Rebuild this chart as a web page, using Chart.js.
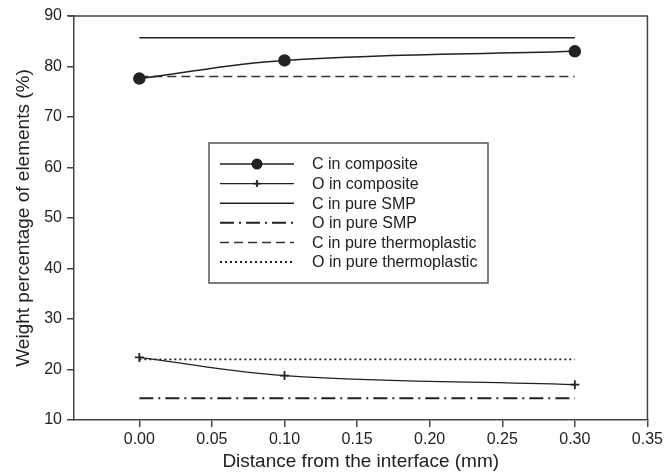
<!DOCTYPE html>
<html>
<head>
<meta charset="utf-8">
<script src="https://cdn.jsdelivr.net/npm/chart.js@4"></script>
<style>
html,body{margin:0;padding:0;background:#fff;}
#wrap{width:666px;height:474px;}
</style>
</head>
<body>
<div id="wrap"><canvas id="chart" width="666" height="474"></canvas></div>
<script>
// data
const xTicks=[0,0.05,0.10,0.15,0.20,0.25,0.30,0.35];
const yTicks=[10,20,30,40,50,60,70,80,90];
const distances=[0,0.1,0.3];
const cComposite=[77.6,81.2,83.0];
const oComposite=[22.4,18.8,17.0];
const lineEnds=[0,0.3];
const cPureSMP=[85.7,85.7];
const oPureSMP=[14.3,14.3];
const cPureThermo=[78.0,78.0];
const oPureThermo=[22.0,22.0];

const ink='#222';
const FONT='"Liberation Sans", Arial, sans-serif';

function pts(xs,ys){return xs.map((x,i)=>({x:x,y:ys[i]}));}

const datasets=[
    {label:'C in composite',data:pts(distances,cComposite),borderColor:ink,backgroundColor:ink,borderWidth:1.5,
     pointStyle:'circle',pointRadius:5.5,tension:0.4},
    {label:'O in composite',data:pts(distances,oComposite),borderColor:ink,backgroundColor:ink,borderWidth:1.3,
     pointStyle:'cross',pointRadius:4.5,pointBorderWidth:1.8,tension:0.4},
    {label:'C in pure SMP',data:pts(lineEnds,cPureSMP),borderColor:ink,borderWidth:1.4,pointRadius:0},
    {label:'O in pure SMP',data:pts(lineEnds,oPureSMP),borderColor:ink,borderWidth:2,borderDash:[14,5,2,5],pointRadius:0},
    {label:'C in pure thermoplastic',data:pts(lineEnds,cPureThermo),borderColor:'#333',borderWidth:1.5,borderDash:[9,5],pointRadius:0},
    {label:'O in pure thermoplastic',data:pts(lineEnds,oPureThermo),borderColor:ink,borderWidth:1.8,borderDash:[2,3],pointRadius:0}
];

// box around the plot and the legend inside it
const framePlugin={
    id:'frame',
    afterDraw(chart){
        const ctx=chart.ctx, a=chart.chartArea;
        ctx.save();
        ctx.strokeStyle='#444';
        ctx.lineWidth=1.5;
        ctx.beginPath();
        ctx.moveTo(a.left-6,a.top);ctx.lineTo(a.right,a.top);ctx.lineTo(a.right,a.bottom);
        ctx.stroke();

        const bx=a.left+135, by=a.top+127, bw=279, bh=140;
        ctx.strokeStyle='#555';
        ctx.lineWidth=1.5;
        ctx.strokeRect(bx,by,bw,bh);
        ctx.font='16px '+FONT;
        ctx.textBaseline='middle';
        chart.data.datasets.forEach((ds,i)=>{
            const y=by+21+i*19.6;
            const x0=bx+11, x1=bx+85;
            ctx.strokeStyle=ds.borderColor;
            ctx.lineWidth=ds.borderWidth;
            ctx.setLineDash(ds.borderDash||[]);
            ctx.beginPath();ctx.moveTo(x0,y);ctx.lineTo(x1,y);ctx.stroke();
            ctx.setLineDash([]);
            if(ds.pointRadius>0){
                const cx=(x0+x1)/2;
                if(ds.pointStyle==='circle'){
                    ctx.fillStyle=ds.backgroundColor;
                    ctx.beginPath();ctx.arc(cx,y,ds.pointRadius,0,Math.PI*2);ctx.fill();
                }else{
                    const r=3.5;
                    ctx.lineWidth=ds.pointBorderWidth;
                    ctx.beginPath();ctx.moveTo(cx-r,y);ctx.lineTo(cx+r,y);ctx.moveTo(cx,y-r);ctx.lineTo(cx,y+r);ctx.stroke();
                }
            }
            ctx.fillStyle=ink;
            ctx.fillText(ds.label,bx+103,y+1);
        });
        ctx.restore();
    }
};

const axisCommon={
    grid:{drawOnChartArea:false,drawTicks:true,tickLength:7,color:'#444',lineWidth:1.5},
    border:{display:true,color:'#444',width:1.5}
};

new Chart(document.getElementById('chart'),{
    type:'line',
    data:{datasets:datasets},
    options:{
        responsive:false,
        animation:false,
        events:[],
        layout:{padding:{top:16,right:17,bottom:0,left:0}},
        plugins:{legend:{display:false},tooltip:{enabled:false}},
        scales:{
            x:{
                type:'linear',min:-0.045,max:0.35,
                ...axisCommon,
                afterBuildTicks:s=>{s.ticks=xTicks.map(v=>({value:v}));},
                afterFit:s=>{s.height=54;},
                ticks:{color:ink,font:{family:FONT,size:16},padding:3,maxRotation:0,autoSkip:false,
                    callback:v=>Number(v).toFixed(2)},
                title:{display:true,text:'Distance from the interface (mm)',color:ink,
                    font:{family:FONT,size:19},padding:{top:0,bottom:1}}
            },
            y:{
                min:10,max:90,
                ...axisCommon,
                afterBuildTicks:s=>{s.ticks=yTicks.map(v=>({value:v}));},
                afterFit:s=>{s.width=74;},
                ticks:{color:ink,font:{family:FONT,size:16},padding:5},
                title:{display:true,text:'Weight percentage of elements (%)',color:ink,
                    font:{family:FONT,size:19},padding:{top:12,bottom:0}}
            }
        }
    },
    plugins:[framePlugin]
});
</script>
</body>
</html>
